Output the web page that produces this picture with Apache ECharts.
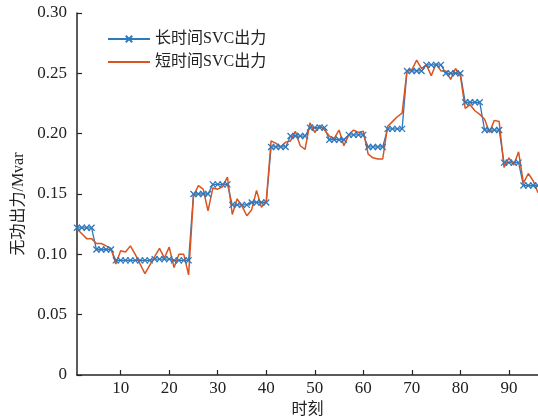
<!DOCTYPE html>
<html>
<head>
<meta charset="utf-8">
<script src="https://cdn.jsdelivr.net/npm/echarts@6/dist/echarts.min.js"></script>
<style>
  html, body { margin: 0; padding: 0; background: #fff; }
  #chart { width: 538px; height: 420px; }
</style>
</head>
<body>
<div id="chart"></div>
<script>
// Reactive power output of the SVC over 96 time steps (15-min resolution)
const seriesNames = ['长时间SVC出力', '短时间SVC出力'];

// Long-time-scale SVC output: held constant over each hour (4 steps)
const longTermOutput = [
  0.122, 0.122, 0.122, 0.122,
  0.104, 0.104, 0.104, 0.104,
  0.095, 0.095, 0.095, 0.095,
  0.095, 0.095, 0.095, 0.095,
  0.096, 0.096, 0.096, 0.096,
  0.095, 0.095, 0.095, 0.095,
  0.150, 0.150, 0.150, 0.150,
  0.158, 0.158, 0.158, 0.158,
  0.141, 0.141, 0.141, 0.141,
  0.143, 0.143, 0.143, 0.143,
  0.189, 0.189, 0.189, 0.189,
  0.198, 0.198, 0.198, 0.198,
  0.205, 0.205, 0.205, 0.205,
  0.195, 0.195, 0.195, 0.195,
  0.199, 0.199, 0.199, 0.199,
  0.189, 0.189, 0.189, 0.189,
  0.204, 0.204, 0.204, 0.204,
  0.252, 0.252, 0.252, 0.252,
  0.257, 0.257, 0.257, 0.257,
  0.250, 0.250, 0.250, 0.250,
  0.226, 0.226, 0.226, 0.226,
  0.203, 0.203, 0.203, 0.203,
  0.176, 0.176, 0.176, 0.176,
  0.157, 0.157, 0.157, 0.157
];

// Short-time-scale SVC output: adjusted every step
const shortTermOutput = [
  0.121, 0.117, 0.113, 0.113, 0.109, 0.109, 0.107, 0.105,
  0.092, 0.103, 0.102, 0.107, 0.100, 0.092, 0.084, 0.091,
  0.098, 0.105, 0.097, 0.106, 0.089, 0.100, 0.100, 0.083,
  0.148, 0.157, 0.154, 0.136, 0.155, 0.154, 0.156, 0.164,
  0.133, 0.146, 0.140, 0.132, 0.137, 0.153, 0.139, 0.144,
  0.194, 0.192, 0.189, 0.193, 0.194, 0.202, 0.190, 0.187,
  0.209, 0.201, 0.207, 0.203, 0.198, 0.196, 0.203, 0.190,
  0.199, 0.203, 0.201, 0.202, 0.183, 0.180, 0.179, 0.179,
  0.206, 0.210, 0.214, 0.217, 0.252, 0.253, 0.261, 0.254,
  0.257, 0.248, 0.258, 0.252, 0.252, 0.245, 0.254, 0.248,
  0.221, 0.224, 0.219, 0.216, 0.212, 0.201, 0.211, 0.210,
  0.172, 0.180, 0.174, 0.185, 0.159, 0.167, 0.161, 0.151
];

const xTickValues = [10, 20, 30, 40, 50, 60, 70, 80, 90];
const xAxisTitle = '时刻';
const yAxisTitle = '无功出力/Mvar';

const blue = '#2e78bd';
const orange = '#d9541e';
const axisColor = '#262626';
const serif = '"Liberation Serif", "Times New Roman", "Noto Sans CJK SC", serif';

function toPoints(values) {
  return values.map((v, i) => [i + 1, v]);
}

// thin diagonal cross used as the marker of the long-term series
const crossSymbol = 'path://M0,0L10,10M0,10L10,0';

const chart = echarts.init(document.getElementById('chart'), null, { renderer: 'canvas' });

chart.setOption({
  animation: false,
  backgroundColor: '#ffffff',
  grid: { left: 77, right: 0, top: 13, bottom: 45, containLabel: false, outerBoundsMode: 'none' },
  legend: {
    left: 107,
    top: 31,
    orient: 'vertical',
    padding: 0,
    itemGap: 7,
    itemWidth: 42,
    itemHeight: 8,
    textStyle: { fontFamily: serif, fontSize: 16, lineHeight: 16, color: '#222' },
    data: seriesNames
  },
  xAxis: {
    type: 'value',
    min: 1,
    max: 96,
    name: xAxisTitle,
    nameLocation: 'middle',
    nameGap: 27,
    nameTextStyle: { fontFamily: serif, fontSize: 16, color: '#222' },
    axisLine: { show: true, lineStyle: { color: axisColor, width: 1.5 } },
    axisTick: { show: true, inside: true, length: 5, customValues: xTickValues, lineStyle: { color: axisColor, width: 1.2 } },
    axisLabel: { customValues: xTickValues, fontFamily: serif, fontSize: 17, color: '#222', margin: 5 },
    splitLine: { show: false }
  },
  yAxis: {
    type: 'value',
    min: 0,
    max: 0.3,
    interval: 0.05,
    name: yAxisTitle,
    nameLocation: 'middle',
    nameGap: 44,
    nameTextStyle: { fontFamily: serif, fontSize: 16, color: '#222', padding: [0, 20, 0, 0] },
    axisLine: { show: true, lineStyle: { color: axisColor, width: 1.5 } },
    axisTick: { show: true, inside: true, length: 5, lineStyle: { color: axisColor, width: 1.2 } },
    axisLabel: {
      fontFamily: serif, fontSize: 17, color: '#222', margin: 10,
      formatter: v => (v === 0 ? '0' : v.toFixed(2))
    },
    splitLine: { show: false }
  },
  series: [
    {
      name: seriesNames[0],
      type: 'line',
      data: toPoints(longTermOutput),
      symbol: crossSymbol,
      symbolSize: 6,
      showAllSymbol: true,
      lineStyle: { color: blue, width: 1.3 },
      itemStyle: { color: blue, borderColor: blue, borderWidth: 1.3 }
    },
    {
      name: seriesNames[1],
      type: 'line',
      data: toPoints(shortTermOutput),
      symbol: 'circle',
      showSymbol: false,
      lineStyle: { color: orange, width: 1.5 },
      // plain line: the marker stays hidden, in the legend too
      itemStyle: { color: orange, opacity: 0 }
    }
  ]
});
</script>
</body>
</html>
